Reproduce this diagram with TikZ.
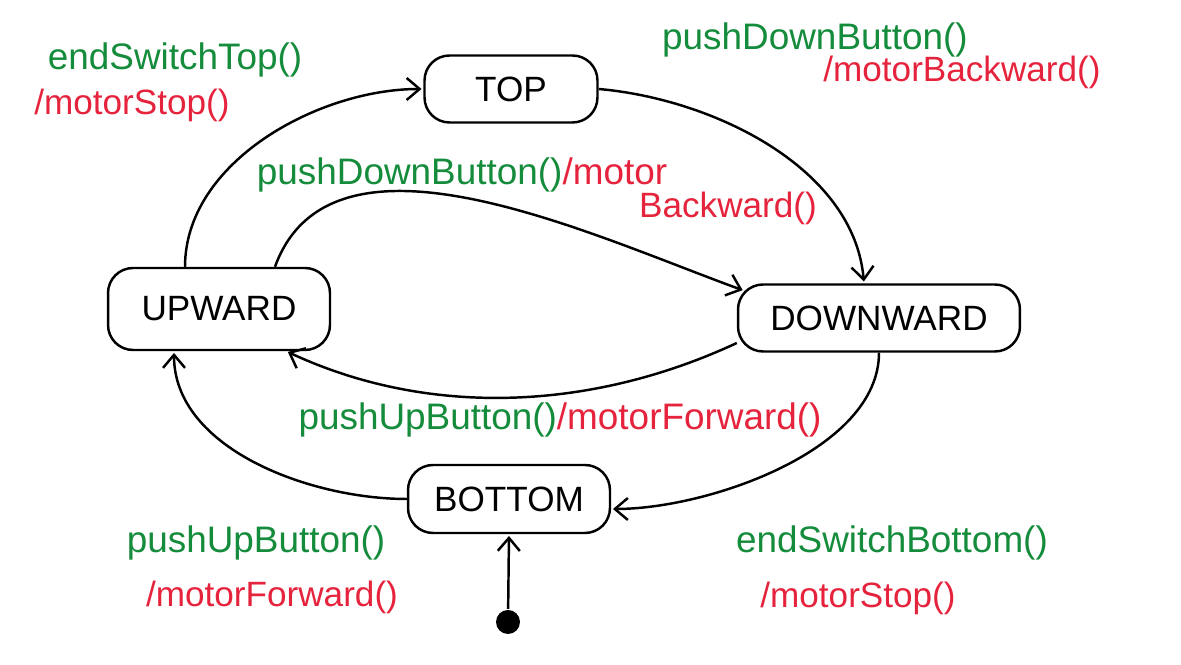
\documentclass[tikz,border=0pt]{standalone}
\usepackage{fontspec}
\setmainfont{Liberation Sans}
\usepackage{tikz}
\usetikzlibrary{arrows.meta,shapes}
\definecolor{trigger}{RGB}{20,140,60}
\definecolor{action}{RGB}{230,35,60}

\begin{document}
\begin{tikzpicture}[x=0.02cm,y=0.02cm,line width=1.4pt,
    >={Straight Barb[length=2.6mm,width=4.4mm]}]
  \tikzstyle{state}=[rectangle,draw=black,rounded corners=0.5cm,
                     font=\fontsize{20}{24}\selectfont,inner sep=0pt]
  \tikzstyle{initial}=[circle,fill=black,minimum size=0.48cm,inner sep=0pt]
  \tikzstyle{post}=[->,shorten >=1pt]
  \tikzstyle{guard}=[text=trigger,font=\fontsize{21}{25}\selectfont,inner sep=0pt]
  \tikzstyle{effect}=[text=action,font=\fontsize{20}{24}\selectfont,inner sep=0pt]
  \useasboundingbox (0,0) rectangle (1181,665);
  % states
  \node [state,minimum width=3.46cm,minimum height=1.34cm] (top) at (511,576) {TOP};
  \node [state,minimum width=4.44cm,minimum height=1.64cm] (upward) at (219,356) {UPWARD};
  \node [state,minimum width=5.64cm,minimum height=1.34cm] (downward) at (879,347) {DOWNWARD};
  \node [state,minimum width=4.04cm,minimum height=1.36cm] (bottom) at (509,166) {BOTTOM};
  \node [initial] (init) at (508,43) {};
  % transitions
  \draw [post] ([xshift=-0.68cm]upward.north) to[out=90,in=180,looseness=0.9] (top.west);
  \draw [post] (top.east) to[out=-5,in=95,looseness=0.9] ([xshift=-0.3cm]downward.north);
  \draw [post] ([xshift=1.12cm]upward.north) to[out=70,in=160,looseness=0.9]
    ([shift={(0.15cm,-0.15cm)}]downward.north west);
  \draw [post] ([yshift=-0.5cm]downward.west) to[out=205,in=-25,looseness=0.9]
    ([xshift=-0.9cm]upward.south east);
  \draw [post] (downward.south) to[out=-90,in=0,looseness=0.8] ([yshift=-0.2cm]bottom.east);
  \draw [post] (bottom.west) to[out=180,in=-90,looseness=0.9] ([xshift=-0.9cm]upward.south);
  \draw [post] (init) -- (bottom.south);
  % labels
  \node [guard] (l1a) at (175,605) {endSwitchTop()};
  \node [effect] (l1b) at (132,560) {/motorStop()};
  \node [guard] (l2a) at (815,625) {pushDownButton()};
  \node [effect] (l2b) at (962,593) {/motorBackward()};
  \node [guard] (l3a) at (462,490) {pushDownButton()\textcolor{action}{/motor}};
  \node [effect] (l3b) at (728,457) {Backward()};
  \node [guard] (l4) at (560,245) {pushUpButton()\textcolor{action}{/motorForward()}};
  \node [guard] (l5a) at (256,122) {pushUpButton()};
  \node [effect] (l5b) at (272,68) {/motorForward()};
  \node [guard] (l6a) at (892,122) {endSwitchBottom()};
  \node [effect] (l6b) at (858,67) {/motorStop()};
\end{tikzpicture}
\end{document}
